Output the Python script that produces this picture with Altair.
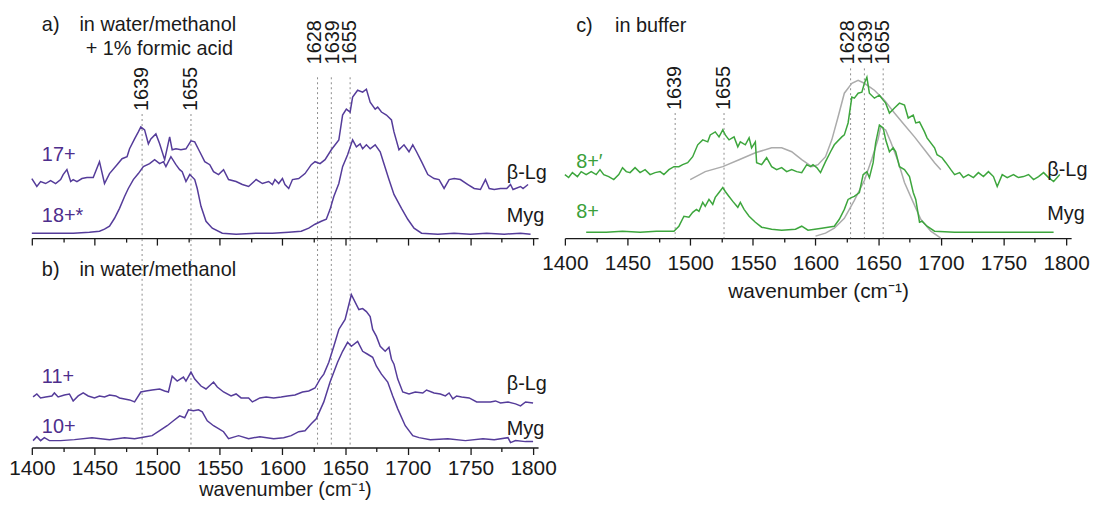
import altair as alt
import pandas as pd

FONT = "Liberation Sans"
PURPLE = "#553C9A"
PURPLE_TXT = "#4E2E8C"
GREEN = "#3DA63D"
GREEN_TXT = "#3AA03A"
GRAY = "#ABABAB"
DASH = "#8C8C8C"
INK = "#1A1A1A"

W = 510
XDOM = [1400, 1804]
HA, HB, HC = 230, 210, 230
TICKS = list(range(1400, 1801, 25))

# ---------------- panel a: water/methanol + 1% formic acid ----------------
A_BLG_17 = [(1400,60),(1404,52),(1407,57),(1411,55),(1415,58),(1419,55),(1423,59),(1425,64),(1428,69),(1431,57),
            (1433,59),(1436,57),(1440,60),(1444,61),(1449,61),(1454,77),(1458,55),(1462,65),(1468,74),(1472,80),
            (1476,82),(1478,90),(1482,100),(1485,107),(1487,112),(1490,109),(1493,95),(1495,100),(1499,105),(1502,95),
            (1506,79),(1510,102),(1512,89),(1515,90),(1519,89),(1523,90),(1527,98),(1530,97),(1534,87),(1538,77),
            (1542,74),(1545,67),(1549,64),(1553,69),(1557,59),(1563,57),(1568,54),(1573,52),(1579,59),(1584,55),
            (1589,57),(1592,54),(1594,59),(1597,55),(1600,60),(1602,54),(1605,50),(1608,59),(1613,60),(1618,65),
            (1623,74),(1626,77),(1630,75),(1634,79),(1639,89),(1645,99),(1648,124),(1651,130),(1654,127),(1656,142),
            (1660,149),(1664,147),(1667,150),(1670,137),(1674,130),(1676,132),(1679,127),(1683,124),(1687,119),(1689,107),
            (1693,89),(1697,94),(1701,87),(1704,94),(1707,87),(1711,77),(1716,64),(1721,60),(1725,59),(1729,50),
            (1733,59),(1737,60),(1742,59),(1748,54),(1753,50),(1758,49),(1762,59),(1765,50),(1769,49),(1774,50),
            (1779,50),(1782,54),(1784,49),(1790,52),(1792,50),(1796,54)]
A_MYG_18 = [(1400,5),(1420,5),(1433,5),(1446,6),(1454,7),(1458,9),(1462,12),(1466,20),(1470,30),(1474,42),
            (1477,50),(1481,59),(1485,65),(1489,72),(1494,75),(1498,79),(1502,75),(1505,77),(1507,72),(1511,82),
            (1515,74),(1518,69),(1520,67),(1523,57),(1526,64),(1530,59),(1532,50),(1535,32),(1539,17),(1544,10),
            (1552,5),(1563,4),(1579,5),(1592,5),(1605,6),(1615,7),(1621,10),(1626,14),(1631,17),(1635,19),
            (1638,29),(1641,42),(1645,55),(1648,72),(1652,84),(1656,99),(1659,92),(1662,95),(1664,90),(1667,94),
            (1670,90),(1674,94),(1678,87),(1681,75),(1685,59),(1689,44),(1695,30),(1700,19),(1705,10),(1711,5),
            (1724,4),(1737,5),(1750,4),(1763,5),(1777,4),(1790,5),(1798,4)]

# ---------------- panel b: water/methanol ----------------
B_BLG_11 = [(1401,51),(1404,54),(1407,50),(1411,51),(1416,52),(1418,55),(1421,51),(1426,53),(1430,54),(1433,47),
            (1437,52),(1441,55),(1445,52),(1450,50),(1454,52),(1458,51),(1462,53),(1467,52),(1470,50),(1474,49),
            (1478,48),(1482,46),(1487,56),(1491,57),(1496,58),(1502,59),(1506,57),(1509,56),(1512,72),(1516,67),
            (1521,71),(1523,67),(1527,76),(1530,69),(1535,62),(1539,59),(1545,66),(1548,61),(1553,56),(1559,52),
            (1563,54),(1567,50),(1573,50),(1576,46),(1582,50),(1587,51),(1593,50),(1599,51),(1604,52),(1610,53),
            (1616,56),(1621,57),(1626,60),(1630,69),(1633,74),(1637,86),(1641,102),(1645,119),(1650,129),(1655,154),
            (1661,139),(1664,140),(1667,137),(1670,132),(1672,119),(1675,112),(1678,102),(1682,97),(1685,101),(1687,89),
            (1689,84),(1692,69),(1696,56),(1701,54),(1706,56),(1712,55),(1715,58),(1721,55),(1726,54),(1730,52),
            (1733,55),(1736,49),(1739,52),(1743,51),(1749,50),(1755,46),(1760,46),(1766,46),(1770,47),(1774,45),
            (1780,46),(1786,44),(1790,42),(1794,46),(1800,45)]
B_MYG_10 = [(1401,7),(1404,11),(1407,7),(1410,10),(1414,7),(1423,7),(1434,8),(1448,10),(1462,8),(1468,9),
            (1474,10),(1482,9),(1491,11),(1496,12),(1502,17),(1508,22),(1513,27),(1518,32),(1522,30),(1525,38),
            (1529,37),(1533,38),(1536,36),(1540,27),(1545,22),(1549,19),(1553,16),(1557,9),(1565,12),(1573,9),
            (1582,11),(1593,9),(1601,10),(1607,12),(1613,16),(1618,17),(1623,24),(1627,29),(1633,46),(1638,66),
            (1644,86),(1648,97),(1652,106),(1655,102),(1660,107),(1664,97),(1668,94),(1672,91),(1675,82),(1679,74),
            (1684,66),(1688,52),(1692,39),(1698,22),(1704,12),(1709,10),(1718,8),(1732,9),(1746,7),(1760,9),
            (1769,8),(1780,10),(1782,5),(1786,7),(1794,6),(1800,6)]

# ---------------- panel c: buffer ----------------
C_BLG_8 = [(1400,64),(1403,61),(1406,66),(1410,62),(1413,67),(1417,64),(1421,67),(1425,64),(1428,69),(1431,64),
           (1435,62),(1439,59),(1443,64),(1446,71),(1449,67),(1452,66),(1456,71),(1460,66),(1464,69),(1468,64),
           (1472,66),(1476,67),(1479,64),(1483,69),(1487,72),(1491,72),(1494,74),(1498,76),(1502,82),(1506,94),
           (1510,99),(1514,97),(1516,104),(1520,107),(1523,102),(1526,109),(1528,104),(1531,99),(1535,102),(1538,92),
           (1540,97),(1544,94),(1547,101),(1549,91),(1552,97),(1553,76),(1557,74),(1561,81),(1565,72),(1569,69),
           (1573,71),(1577,67),(1581,69),(1585,67),(1589,66),(1593,74),(1596,72),(1598,74),(1601,71),(1604,66),
           (1608,77),(1612,87),(1615,94),(1621,102),(1623,104),(1626,116),(1629,142),(1631,141),(1634,146),(1637,147),
           (1639,156),(1641,162),(1643,146),(1647,141),(1651,144),(1654,139),(1656,136),(1659,126),(1663,131),(1667,136),
           (1671,134),(1674,121),(1678,124),(1680,116),(1683,117),(1687,107),(1689,101),(1695,91),(1697,84),(1701,81),
           (1704,76),(1708,69),(1711,64),(1715,66),(1718,61),(1722,64),(1726,61),(1730,66),(1734,62),(1738,67),
           (1742,62),(1745,52),(1749,64),(1753,61),(1758,64),(1762,61),(1766,62),(1770,64),(1774,59),(1778,62),
           (1782,66),(1786,61),(1790,57),(1795,64)]
C_MYG_8 = [(1417,6),(1433,6),(1446,7),(1460,6),(1473,7),(1487,7),(1491,12),(1495,22),(1499,21),(1502,26),
           (1505,29),(1507,27),(1510,36),(1512,32),(1515,39),(1518,34),(1520,41),(1523,46),(1526,51),(1528,47),
           (1531,42),(1534,37),(1538,31),(1540,36),(1543,29),(1547,22),(1552,16),(1557,11),(1565,9),(1573,8),
           (1584,9),(1589,12),(1594,8),(1605,10),(1610,11),(1615,12),(1619,19),(1623,29),(1626,39),(1629,41),
           (1631,42),(1635,46),(1638,64),(1641,67),(1643,61),(1646,76),(1648,96),(1651,114),(1654,111),(1656,99),
           (1659,87),(1662,91),(1664,87),(1667,72),(1671,69),(1675,62),(1678,46),(1680,39),(1683,16),(1685,17),
           (1689,12),(1695,7),(1711,6),(1737,6),(1763,6),(1790,6)]
C_BLG_REF = [(1500,59),(1512,67),(1526,72),(1539,79),(1552,86),(1565,91),(1573,91),(1581,87),(1589,79),(1597,72),
             (1602,74),(1608,82),(1613,99),(1618,122),(1623,146),(1629,156),(1634,159),(1639,156),(1647,149),(1655,139),
             (1663,126),(1671,114),(1679,102),(1687,89),(1695,76),(1700,69)]
C_MYG_REF = [(1600,2),(1608,5),(1615,10),(1623,20),(1631,38),(1639,58),(1645,80),(1650,100),(1652,112),(1656,109),
             (1660,97),(1666,77),(1671,56),(1678,36),(1684,19),(1692,7),(1700,0)]

# dashed marker lines: (line position, top of line) and rotated labels (label x, label anchor, text)
A_LINES = [(1488, 125), (1527, 125), (1628, 162), (1639, 162), (1654, 162)]
A_LABELS = [(1488, 128, "1639"), (1527, 128, "1655"), (1626, 175, "1628"), (1640, 175, "1639"), (1654, 175, "1655")]
B_LINES = [(1488, 210), (1527, 210), (1628, 210), (1639, 210), (1654, 210)]
C_LINES = [(1488, 126), (1527, 126), (1628, 171), (1639, 171), (1654, 171)]
C_LABELS = [(1488, 129, "1639"), (1527, 129, "1655"), (1626, 175, "1628"), (1640, 175, "1639"), (1654, 175, "1655")]

# text labels: (x, y, text)
A_TITLE = [(1408, 215, "a)"), (1438, 215, "in water/methanol"), (1443, 190, "+ 1% formic acid")]
A_CHARGE = [(1408, 84, "17+"), (1408, 22, "18+*")]
A_PROT = [(1779, 66, "β-Lg"), (1779, 22, "Myg")]
B_TITLE = [(1408, 179, "b)"), (1438, 179, "in water/methanol")]
B_CHARGE = [(1408, 71, "11+"), (1408, 21, "10+")]
B_PROT = [(1779, 64, "β-Lg"), (1779, 19, "Myg")]
C_TITLE = [(1409, 214, "c)"), (1440, 214, "in buffer")]
C_CHARGE = [(1409, 77, "8+′"), (1409, 26, "8+")]
C_PROT = [(1785, 69, "β-Lg"), (1785, 24, "Myg")]

AXIS_TITLE = "wavenumber (cm⁻¹)"


def xenc(show_labels, title, lab_pad=3, title_pad=1, title_size=20):
    kw = dict(values=TICKS, format="d",
              tickSize={"condition": {"test": "datum.value % 50 == 0", "value": 7}, "value": 4},
              tickWidth=1.3, tickColor=INK,
              domainColor=INK, domainWidth=1.4, grid=False,
              labels=show_labels, labelFont=FONT, labelFontSize=21, labelColor=INK,
              labelPadding=lab_pad, labelOverlap=False, labelFlush=False,
              labelExpr="datum.value % 50 == 0 ? datum.label : ''",
              titleFont=FONT, titleFontSize=title_size, titleFontWeight="normal", titleColor=INK,
              titlePadding=title_pad)
    return alt.X("wn:Q", scale=alt.Scale(domain=XDOM, nice=False, zero=False),
                 axis=alt.Axis(**kw), title=title)


def yenc(h):
    return alt.Y("I:Q", scale=alt.Scale(domain=[0, h], nice=False, zero=False), axis=None)


def line(pairs, color, h, X, width=1.5):
    d = pd.DataFrame(pairs, columns=["wn", "I"])
    return alt.Chart(d).mark_line(color=color, strokeWidth=width, interpolate="linear").encode(
        x=X, y=yenc(h))


def rules(rows, h, X):
    d = pd.DataFrame(rows, columns=["wn", "I"])
    return alt.Chart(d).mark_rule(color=DASH, strokeWidth=1, strokeDash=[2, 3]).encode(
        x=X, y=yenc(h), y2=alt.datum(0))


def texts(rows, h, X, color, size=20, angle=0):
    d = pd.DataFrame(rows, columns=["wn", "I", "t"])
    if angle:
        m = alt.Chart(d).mark_text(font=FONT, fontSize=size, color=color, align="left",
                                   baseline="middle", angle=angle)
    else:
        m = alt.Chart(d).mark_text(font=FONT, fontSize=size, color=color, align="left",
                                   baseline="middle")
    return m.encode(x=X, y=yenc(h), text="t:N")


# panel a
XA = xenc(False, None)
panel_a = alt.layer(
    rules(A_LINES, HA, XA), texts(A_LABELS, HA, XA, INK, size=20, angle=270),
    line(A_BLG_17, PURPLE, HA, XA), line(A_MYG_18, PURPLE, HA, XA),
    texts(A_TITLE, HA, XA, INK), texts(A_CHARGE, HA, XA, PURPLE_TXT), texts(A_PROT, HA, XA, INK),
).properties(width=W, height=HA)

# panel b
XB = xenc(True, AXIS_TITLE, lab_pad=3, title_pad=1, title_size=20)
panel_b = alt.layer(
    rules(B_LINES, HB, XB),
    line(B_BLG_11, PURPLE, HB, XB), line(B_MYG_10, PURPLE, HB, XB),
    texts(B_TITLE, HB, XB, INK), texts(B_CHARGE, HB, XB, PURPLE_TXT), texts(B_PROT, HB, XB, INK),
).properties(width=W, height=HB)

# panel c
XC = xenc(True, AXIS_TITLE, lab_pad=8, title_pad=7, title_size=21)
panel_c = alt.layer(
    rules(C_LINES, HC, XC), texts(C_LABELS, HC, XC, INK, size=20, angle=270),
    line(C_BLG_REF, GRAY, HC, XC, 1.5), line(C_MYG_REF, GRAY, HC, XC, 1.5),
    line(C_BLG_8, GREEN, HC, XC), line(C_MYG_8, GREEN, HC, XC),
    texts(C_TITLE, HC, XC, INK), texts(C_CHARGE, HC, XC, GREEN_TXT), texts(C_PROT, HC, XC, INK),
).properties(width=W, height=HC)

chart = alt.concat(panel_a, panel_c, panel_b, columns=2, bounds="flush",
                   spacing={"row": 1, "column": 27}).properties(
    padding={"left": 0, "top": 0, "right": 0, "bottom": 0},
    background="white",
).configure_view(strokeWidth=0)

chart.save("out.html", embed_options={"renderer": "svg", "actions": False})
